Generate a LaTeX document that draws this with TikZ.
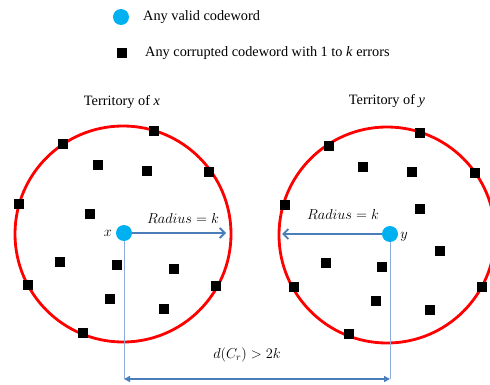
\documentclass[tikz,border=0pt]{standalone}
\usepackage{fontspec}
\setmainfont{Liberation Serif}
\usetikzlibrary{arrows.meta}
\definecolor{dotblue}{RGB}{0,176,240}
\definecolor{arrblue}{RGB}{74,126,187}
\definecolor{thinblue}{RGB}{143,170,220}
\definecolor{circred}{RGB}{255,0,0}
\tikzset{
  sq/.style={fill=black,minimum size=9.5pt,inner sep=0pt,outer sep=0pt,rectangle},
  cw/.style={circle,fill=dotblue,minimum size=16pt,inner sep=0pt},
  terr/.style={circle,draw=circred,line width=2.8pt,minimum size=216pt,inner sep=0pt},
  radarrow/.style={draw=arrblue,line width=2.4pt,-{Straight Barb[length=5pt,width=10pt,line width=1.8pt]}},
  thin/.style={draw=thinblue,line width=0.7pt},
  lbl/.style={font=\fontsize{14.3}{16}\selectfont,inner sep=0pt}
}
\begin{document}
\begin{tikzpicture}[x=1pt,y=-1pt]
\useasboundingbox (0,0) rectangle (490,385);
% legend
\node[cw] (legdot) at (121,17) {};
\node[lbl,anchor=west] (legdott) at (143,17) {Any valid codeword};
\node[sq] (legsq) at (122,53) {};
\node[lbl,anchor=west] (legsqt) at (145,53) {Any corrupted codeword with 1 to \textit{k} errors};
% titles
\node[lbl] (tx) at (122,102) {Territory of \textit{x}};
\node[lbl] (ty) at (387,101) {Territory of \textit{y}};
% circles
\node[terr] (cx) at (123,234) {};
\node[terr] (cy) at (387,235) {};
% squares left
\foreach \p [count=\i] in {(154,131),(63,144),(209,172),(98,165),(147,171),(19,204),(90,214),(60,262),(117,265),(174,269),(28,285),(216,286),(110,299),(164,309),(83,333)}
  \node[sq] (lx\i) at \p {};
% squares right
\foreach \p [count=\i] in {(420,133),(329,146),(363,167),(412,172),(475,173),(285,205),(420,209),(440,251),(326,263),(382,267),(294,287),(482,287),(376,301),(430,310),(349,334)}
  \node[sq] (ry\i) at \p {};
% thin vertical lines
\coordinate (bx) at (124,379);
\coordinate (by) at (390,379);
\draw[thin] (124,233) -- (bx);
\draw[thin] (390,234) -- (by);
% codewords
\node[cw] (x) at (124,233) {};
\node[cw] (y) at (390,234) {};
\node[lbl] (xl) at (108,233) {$x$};
\node[lbl] (yl) at (404,237) {$y$};
% radius arrows
\coordinate (rx) at (226,233);
\coordinate (ry) at (282,234);
\draw[radarrow] (x.east) -- (rx);
\draw[radarrow] (y.west) -- (ry);
\node[lbl] (rxl) at (183,218) {$Radius = k$};
\node[lbl] (ryl) at (343,214) {$Radius = k$};
% distance
\draw[draw=arrblue,line width=2pt,{Triangle[length=6pt,width=6pt]}-{Triangle[length=6pt,width=6pt]}] (bx) -- (by);
\node[lbl] (dl) at (247,355) {$d(C_r) > 2k$};
\end{tikzpicture}
\end{document}
